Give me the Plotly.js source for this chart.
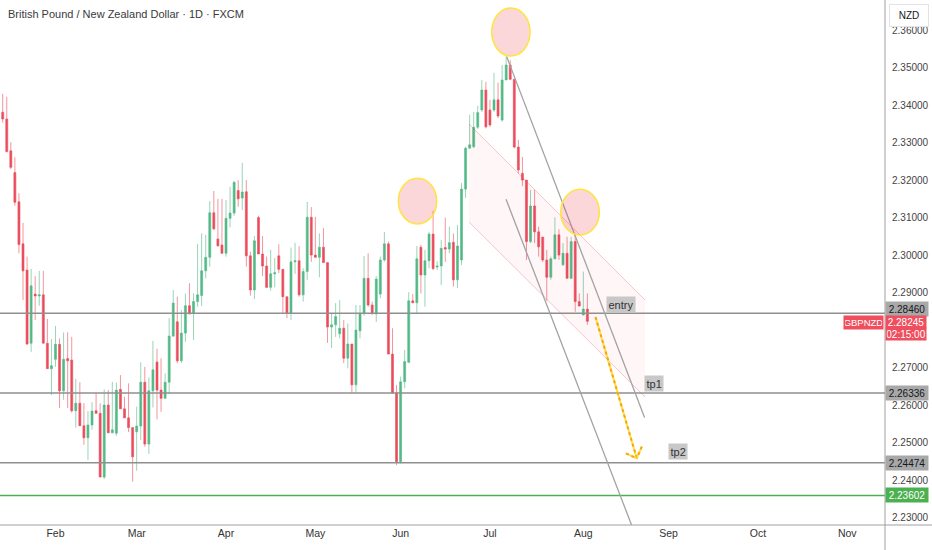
<!DOCTYPE html>
<html><head><meta charset="utf-8">
<script src="https://cdn.plot.ly/plotly-3.0.1.min.js"></script>
<style>html,body{margin:0;padding:0;background:#fff;}#chart{width:932px;height:550px;}</style>
</head><body><div id="chart"></div>
<script>
// ---- data (GBPNZD daily, FXCM) ----
const startDate = '2026-01-14';
const openP = [2.3382,2.3364,2.3279,2.3221,2.3143,2.3031,2.2961,2.2766,2.2897,2.2892,
2.2895,2.2766,2.2698,2.2723,2.2763,2.2639,2.2725,2.2721,2.2586,2.2606,
2.2546,2.2514,2.2548,2.2586,2.2579,2.2409,2.2601,2.2527,2.2526,2.2643,
2.2591,2.2567,2.2541,2.2530,2.2545,2.2662,2.2497,2.2639,2.2716,2.2641,
2.2619,2.2662,2.2785,2.2823,2.2719,2.2793,2.2866,2.2846,2.2877,2.2893,
2.2959,2.2995,2.3114,2.3044,2.3028,2.3006,2.3099,2.3113,2.3173,2.3153,
2.3170,2.2999,2.2908,2.3101,2.3004,2.2972,2.2915,2.2951,2.2999,2.2963,
2.2890,2.2846,2.2983,2.2986,2.2895,2.2957,2.3102,2.3001,2.2995,2.3022,
2.2981,2.2809,2.2815,2.2791,2.2806,2.2726,2.2764,2.2655,2.2799,2.2846,
2.2939,2.2868,2.2844,2.2897,2.2988,2.3031,2.2737,2.2634,2.2450,2.2663,
2.2715,2.2879,2.2874,2.3022,2.2948,2.2986,2.3057,2.2969,2.2972,2.3021,
2.3017,2.3035,2.2935,2.2988,2.3177,2.3286,2.3290,2.3342,2.3388,2.3441,
2.3388,2.3388,2.3415,2.3361,2.3468,2.3508,2.3470,2.3289,2.3219,2.3201,
2.3037,2.3132,2.3063,2.3049,2.2988,2.2942,2.2991,2.3055,2.2975,2.3006,
2.2939,2.3037,2.2877,2.2841,2.2857];
const highP = [2.3431,2.3423,2.3302,2.3262,2.3166,2.3087,2.2997,2.2964,2.2945,2.2959,
2.2959,2.2831,2.2777,2.2812,2.2779,2.2795,2.2795,2.2783,2.2671,2.2662,
2.2606,2.2585,2.2609,2.2633,2.2606,2.2643,2.2641,2.2663,2.2661,2.2681,
2.2623,2.2659,2.2541,2.2597,2.2715,2.2703,2.2675,2.2772,2.2751,2.2726,
2.2686,2.2833,2.2908,2.2890,2.2855,2.2899,2.2926,2.2899,2.3031,2.3059,
2.3055,2.3145,2.3172,2.3151,2.3151,2.3148,2.3183,2.3199,2.3201,2.3247,
2.3201,2.3010,2.3052,2.3106,2.3052,2.2997,2.3015,2.2993,2.3030,2.2963,
2.2890,2.3021,2.3034,2.3025,2.2966,2.3143,2.3129,2.3103,2.3059,2.3073,
2.2981,2.2846,2.2873,2.2881,2.2828,2.2819,2.2764,2.2868,2.2868,2.2999,
2.3006,2.2877,2.2945,2.2997,2.3063,2.3037,2.2806,2.2655,2.2677,2.2748,
2.2902,2.2897,2.3025,2.3028,2.3015,2.3063,2.3119,2.2985,2.3041,2.3101,
2.3077,2.3059,2.3081,2.3193,2.3290,2.3375,2.3383,2.3399,2.3468,2.3463,
2.3415,2.3487,2.3461,2.3508,2.3532,2.3521,2.3470,2.3308,2.3263,2.3201,
2.3175,2.3175,2.3077,2.3049,2.3015,2.2997,2.3102,2.3070,2.3033,2.3050,
2.3050,2.3059,2.2899,2.2957,2.2899];
const lowP = [2.3354,2.3275,2.3230,2.3133,2.3006,2.2881,2.2761,2.2743,2.2828,2.2866,
2.2766,2.2698,2.2628,2.2703,2.2593,2.2615,2.2593,2.2581,2.2541,2.2546,
2.2495,2.2455,2.2535,2.2579,2.2409,2.2404,2.2527,2.2526,2.2519,2.2591,
2.2567,2.2529,2.2397,2.2426,2.2508,2.2490,2.2471,2.2595,2.2563,2.2583,
2.2619,2.2630,2.2783,2.2713,2.2713,2.2770,2.2844,2.2775,2.2863,2.2865,
2.2939,2.2970,2.3068,2.3023,2.3004,2.2997,2.3075,2.3106,2.3130,2.3121,
2.2970,2.2893,2.2884,2.3004,2.2945,2.2913,2.2906,2.2915,2.2953,2.2846,
2.2833,2.2828,2.2951,2.2890,2.2877,2.2935,2.2983,2.2995,2.2942,2.2981,
2.2767,2.2753,2.2783,2.2779,2.2713,2.2699,2.2633,2.2633,2.2779,2.2839,
2.2863,2.2844,2.2823,2.2886,2.2983,2.2737,2.2633,2.2441,2.2445,2.2646,
2.2713,2.2873,2.2844,2.2899,2.2863,2.2966,2.2961,2.2961,2.2921,2.2983,
2.3006,2.2917,2.2913,2.2975,2.3154,2.3286,2.3286,2.3337,2.3383,2.3339,
2.3343,2.3383,2.3366,2.3357,2.3468,2.3468,2.3286,2.3219,2.3185,2.2988,
2.3033,2.3033,2.2997,2.2983,2.2879,2.2935,2.2990,2.2988,2.2972,2.2939,
2.2937,2.2850,2.2865,2.2841,2.2815];
const closeP = [2.3364,2.3277,2.3235,2.3142,2.3029,2.2959,2.2764,2.2919,2.2892,2.2895,
2.2766,2.2698,2.2706,2.2763,2.2639,2.2723,2.2719,2.2586,2.2606,2.2546,
2.2514,2.2548,2.2585,2.2579,2.2409,2.2601,2.2527,2.2535,2.2641,2.2591,
2.2567,2.2541,2.2463,2.2545,2.2662,2.2497,2.2639,2.2695,2.2641,2.2619,
2.2662,2.2785,2.2873,2.2719,2.2793,2.2866,2.2844,2.2877,2.2895,2.2959,
2.2995,2.3114,2.3071,2.3026,2.3006,2.3099,2.3113,2.3195,2.3151,2.3169,
2.2999,2.2908,2.3039,2.3004,2.2972,2.2915,2.2951,2.2954,2.2963,2.2890,
2.2846,2.2983,2.2986,2.2895,2.2957,2.3102,2.3001,2.2995,2.3022,2.2981,
2.2809,2.2815,2.2837,2.2806,2.2726,2.2764,2.2655,2.2801,2.2846,2.2939,
2.2868,2.2844,2.2937,2.2988,2.3031,2.2737,2.2633,2.2450,2.2663,2.2717,
2.2879,2.2874,2.2991,2.2948,2.2986,2.3057,2.2965,2.2972,2.3019,2.3017,
2.3034,2.2935,2.3025,2.3177,2.3286,2.3295,2.3342,2.3381,2.3441,2.3343,
2.3348,2.3415,2.3372,2.3468,2.3508,2.3470,2.3289,2.3228,2.3201,2.3037,
2.3132,2.3063,2.3023,2.2988,2.2942,2.2991,2.3055,2.3001,2.3006,2.2939,
2.3037,2.2877,2.2865,2.2857,2.28245];
const monthTickDates = ['2026-02-02','2026-03-02','2026-04-01','2026-05-01','2026-06-01','2026-07-01','2026-08-03','2026-09-01','2026-10-01','2026-11-02'];
const monthTickText = ['Feb','Mar','Apr','May','Jun','Jul','Aug','Sep','Oct','Nov'];
const priceTickVals = [2.23,2.24,2.25,2.26,2.27,2.29,2.30,2.31,2.32,2.33,2.34,2.35,2.36];
const levelPrices = [2.28460, 2.26336, 2.24474];
const levelText = ['2.28460','2.26336','2.24474'];
const supportPrice = 2.23602;
const lastPrice = 2.28245;
const countdownText = '02:15:00';
const symbolText = 'GBPNZD';
const priceRange = [2.22813, 2.36813];
const barRange = [-0.665, 217.3];

// ---- trading calendar (weekdays) ----
function tradingDay(i){
  const d = new Date(startDate + 'T00:00:00Z');
  let n = 0; const step = i >= 0 ? 1 : -1;
  while (n !== i){ d.setUTCDate(d.getUTCDate() + step); const wd = d.getUTCDay(); if (wd !== 0 && wd !== 6) n += step; }
  return d;
}
function barDate(b){
  const i = Math.floor(b), f = b - i;
  const d = tradingDay(i); d.setTime(d.getTime() + f * 86400000);
  return d.toISOString().slice(0,19).replace('T',' ');
}
const dates = openP.map((_, i) => barDate(i));

// ---- drawings (bar index, price) ----
const channel = {top:[[114.85,2.33506],[158.2,2.28813]], bottom:[[114.85,2.30893],[158.2,2.26226]]};
const trendA = [[124.14,2.35301],[158.08,2.25680]];
const trendB = [[123.97,2.31498],[154.88,2.22813]];
const circles = [[97.44,106.9,2.30840,2.32058],[120.44,129.88,2.35320,2.36600],[137.44,146.95,2.30546,2.31765]];
const arrow = {from:[146.0,2.2836], tip:[156.16,2.24592], leg1:[153.5,2.24725], leg2:[157.4,2.24901]};
const tags = [['entry',152.4,2.2868],['tp1',160.3,2.26581],['tp2',166.3,2.24778]];

const UP = '#53b987', DN = '#eb4d5c';
const traces = [
  {type:'scatter', mode:'lines', hoverinfo:'skip', showlegend:false,
   x:[barDate(channel.top[0][0]),barDate(channel.top[1][0]),barDate(channel.bottom[1][0]),barDate(channel.bottom[0][0]),barDate(channel.top[0][0])],
   y:[channel.top[0][1],channel.top[1][1],channel.bottom[1][1],channel.bottom[0][1],channel.top[0][1]],
   fill:'toself', fillcolor:'rgba(242,54,69,0.045)', line:{width:0}},
  {type:'scatter', mode:'lines', hoverinfo:'skip', showlegend:false,
   x:[barDate(channel.top[0][0]),barDate(channel.top[1][0])], y:[channel.top[0][1],channel.top[1][1]],
   line:{color:'rgba(242,54,69,0.28)', width:1}},
  {type:'scatter', mode:'lines', hoverinfo:'skip', showlegend:false,
   x:[barDate(channel.bottom[0][0]),barDate(channel.bottom[1][0])], y:[channel.bottom[0][1],channel.bottom[1][1]],
   line:{color:'rgba(242,54,69,0.28)', width:1}},
  {type:'candlestick', x:dates, open:openP, high:highP, low:lowP, close:closeP, showlegend:false,
   whiskerwidth:0,
   increasing:{line:{color:'rgba(83,185,135,0.6)', width:1}, fillcolor:UP},
   decreasing:{line:{color:'rgba(235,77,92,0.6)', width:1}, fillcolor:DN}}
];

const shapes = [];
levelPrices.forEach(p => shapes.push({type:'line', xref:'paper', x0:0, x1:1, y0:p, y1:p, line:{color:'#8f8f8f', width:1.5}}));
shapes.push({type:'line', xref:'paper', x0:0, x1:1, y0:supportPrice, y1:supportPrice, line:{color:'#4caf50', width:1.5}});
[trendA, trendB].forEach(t => shapes.push({type:'line', x0:barDate(t[0][0]), y0:t[0][1], x1:barDate(t[1][0]), y1:t[1][1], line:{color:'#a3a3a3', width:1.3}}));
circles.forEach(c => shapes.push({type:'circle', x0:barDate(c[0]), x1:barDate(c[1]), y0:c[2], y1:c[3], fillcolor:'rgba(242,54,69,0.2)', line:{color:'#ffe43b', width:1.5}}));
const arrowSegs = [[arrow.from, arrow.tip],[arrow.leg1, arrow.tip],[arrow.leg2, arrow.tip]];
arrowSegs.forEach(s => {
  shapes.push({type:'line', x0:barDate(s[0][0]), y0:s[0][1], x1:barDate(s[1][0]), y1:s[1][1], line:{color:'#ffe03a', width:2}});
  shapes.push({type:'line', x0:barDate(s[0][0]), y0:s[0][1], x1:barDate(s[1][0]), y1:s[1][1], line:{color:'#f7a21b', width:2, dash:'3px,3px'}});
});
// separators
shapes.push({type:'line', xref:'paper', yref:'paper', x0:0, x1:932/885, y0:0, y1:0, line:{color:'#a0a0a0', width:1}});
shapes.push({type:'line', xref:'paper', yref:'paper', x0:1, x1:1, y0:-25/525, y1:1, line:{color:'#a0a0a0', width:1}});

const F = 'Liberation Sans, Arial, sans-serif';
const annotations = [];
annotations.push({xref:'paper', yref:'paper', x:0, y:1, xanchor:'left', yanchor:'middle', xshift:6, yshift:-14, showarrow:false,
  text:'British Pound / New Zealand Dollar · 1D · FXCM', font:{family:F, size:11, color:'#3a3a3a'}});
annotations.push({xref:'paper', yref:'paper', x:1, y:1, xanchor:'left', yanchor:'middle', xshift:4, yshift:-15.5, showarrow:false,
  text:'NZD', width:36, height:19, bgcolor:'#ffffff', bordercolor:'#e0e3eb', borderwidth:1, borderpad:1, font:{family:F, size:10, color:'#131722'}});
tags.forEach(t => annotations.push({x:barDate(t[1]), y:t[2], showarrow:false, text:t[0], bgcolor:'#c8c8c8', borderpad:1.5,
  font:{family:F, size:11, color:'#333'}}));
const levelShift = [4.7, 0, 0];
levelPrices.forEach((p, i) => annotations.push({xref:'paper', x:1, y:p, xanchor:'left', yanchor:'middle', yshift:levelShift[i], showarrow:false,
  text:levelText[i], width:39, height:11, borderpad:1.5, bgcolor:'#a8a8a8', font:{family:F, size:10, color:'#131722'}}));
annotations.push({xref:'paper', x:1, y:supportPrice, xanchor:'left', yanchor:'middle', showarrow:false,
  text:supportPrice.toFixed(5), width:39, height:11, borderpad:1.5, bgcolor:'#4caf50', font:{family:F, size:10, color:'#ffffff'}});
// last price label (two stacked boxes)
annotations.push({xref:'paper', x:1, y:lastPrice, xanchor:'left', yanchor:'middle', yshift:-0.5, showarrow:false,
  text:lastPrice.toFixed(5), width:39, height:11, borderpad:0.5, bgcolor:'#ef4e5e', font:{family:F, size:10, color:'#ffffff'}});
annotations.push({xref:'paper', x:1, y:lastPrice, xanchor:'left', yanchor:'middle', yshift:-12.5, showarrow:false,
  text:countdownText, width:39, height:11, borderpad:0.5, bgcolor:'#ef4e5e', font:{family:F, size:10, color:'#ffffff'}});
annotations.push({xref:'paper', x:1, y:lastPrice, xanchor:'right', yanchor:'middle', yshift:-1.5, xshift:-1, showarrow:false,
  text:symbolText, width:37, height:11, borderpad:1, bgcolor:'#ef4e5e', font:{family:F, size:9.5, color:'#ffffff'}});

const layout = {
  width:932, height:550, margin:{l:0, r:47, t:0, b:25},
  paper_bgcolor:'#ffffff', plot_bgcolor:'#ffffff', showlegend:false,
  xaxis:{type:'date', range:[barDate(barRange[0]), barDate(barRange[1])], rangebreaks:[{bounds:['sat','mon']}],
    rangeslider:{visible:false}, showgrid:false, zeroline:false, showline:false, ticks:'',
    tickmode:'array', tickvals:monthTickDates, ticktext:monthTickText, tickfont:{family:F, size:10.5, color:'#333'}},
  yaxis:{side:'right', range:priceRange, tickmode:'array', tickvals:priceTickVals, tickformat:'.5f', showgrid:false, zeroline:false,
    showline:false, ticks:'', ticklabelstandoff:6, tickfont:{family:F, size:10, color:'#444'}},
  shapes:shapes, annotations:annotations
};
Plotly.newPlot('chart', traces, layout, {staticPlot:true, displayModeBar:false});
</script></body></html>
